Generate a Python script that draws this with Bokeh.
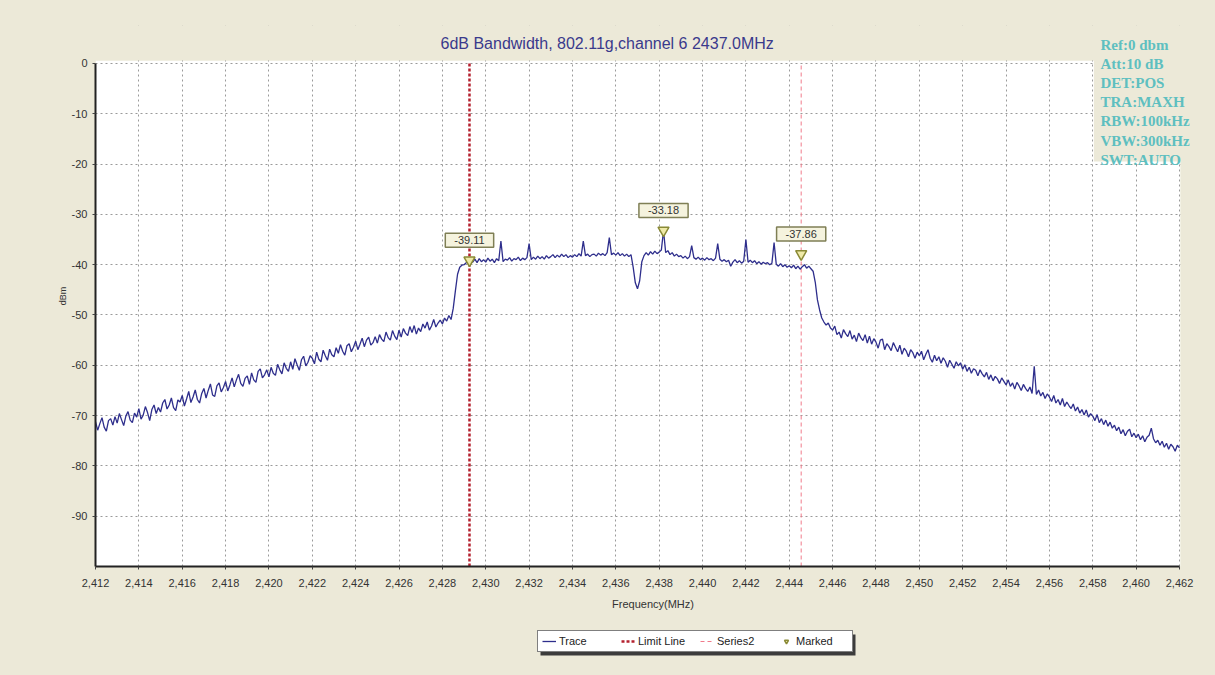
from bokeh.plotting import figure
from bokeh.layouts import column
from bokeh.models import (Range1d, FixedTicker, NumeralTickFormatter, Legend, LegendItem,
                          Label, BoxAnnotation)
from bokeh.embed import file_html
from bokeh.resources import INLINE

# ---------------- data ----------------
F_START = 2412.0
F_STEP = 0.1
TRACE_DBM = [
    -71.2, -72.9, -71.6, -70.4, -72.3, -73.1, -71.0, -70.6, -71.9, -70.2,
    -71.5, -69.6, -70.8, -72.0, -70.1, -69.2, -70.9, -71.4, -69.5, -70.3,
    -68.6, -70.7, -69.9, -68.2, -69.4, -71.0, -68.8, -67.9, -69.6, -68.4,
    -69.3, -67.5, -66.8, -68.7, -67.9, -66.5, -68.4, -69.0, -66.9, -67.3,
    -66.0, -68.1, -66.7, -65.2, -67.4, -66.3, -64.9, -66.8, -67.5, -65.6,
    -64.6, -66.5, -65.0, -63.7, -65.9, -66.2, -64.1, -63.5, -65.3, -64.4,
    -63.2, -65.1, -63.9, -62.5, -64.3, -62.9, -61.8, -63.6, -64.2, -62.6,
    -62.1, -63.8, -61.5, -62.9, -63.4, -61.2, -60.7, -62.5, -61.9, -60.9,
    -62.3, -60.4, -61.6, -62.0, -59.8, -60.9, -61.7, -59.5, -60.6, -61.2,
    -59.3, -60.8, -58.7, -59.9, -61.0, -58.9, -58.2, -60.1, -59.4, -58.1,
    -58.6, -59.7, -57.4, -58.8, -59.3, -57.0, -58.1, -59.0, -56.8, -57.9,
    -58.3, -56.5, -57.6, -55.9, -57.2, -58.0, -56.1, -55.7, -57.3, -56.4,
    -55.2, -56.9, -55.8, -54.6, -56.3, -55.0, -54.4, -56.0, -55.5, -54.3,
    -55.6, -53.9, -54.8, -55.3, -53.4, -54.5, -55.0, -53.1, -54.2, -54.9,
    -53.0, -54.4, -52.7, -53.6, -54.1, -52.3, -53.5, -52.1, -53.8, -52.6,
    -53.3, -51.8, -52.6, -51.4, -53.0, -52.2, -50.9, -52.4, -51.6, -51.0,
    -51.8, -50.6, -51.2, -50.1, -50.9, -48.7, -45.2, -41.9, -40.5, -40.1,
    -40.0, -39.6, -39.3, -39.1, -39.5, -38.9, -39.6, -38.8, -39.4, -39.0,
    -39.5, -38.7, -39.3, -38.9, -39.6, -38.8, -39.2, -35.3, -39.4, -38.9,
    -39.1, -38.6, -39.3, -38.8, -39.0, -38.5, -39.2, -38.7, -39.0, -38.6,
    -35.8, -39.0, -38.5, -38.9, -38.3, -38.8, -38.4, -38.9, -38.2, -38.7,
    -38.4, -38.0, -38.6, -38.1, -38.5, -37.9, -38.4, -38.0, -38.6, -38.2,
    -38.5, -38.0, -38.4, -37.8, -38.3, -35.3, -38.2, -37.9, -38.4, -38.0,
    -37.9, -38.3, -37.7, -38.1, -37.8, -38.2, -37.6, -34.6, -38.0, -37.7,
    -38.1, -37.6, -38.2, -37.8, -38.3, -37.9, -38.4, -38.0, -40.5, -43.6,
    -44.8, -43.2, -39.4, -38.2, -37.6, -38.1, -37.4, -37.9, -37.3, -37.8,
    -37.5, -37.1, -33.2, -37.6, -37.2, -38.0, -37.6, -38.3, -37.9, -38.4,
    -38.2, -38.7, -38.3, -38.8, -38.4, -36.2, -38.6, -38.9, -38.5, -39.0,
    -38.7, -39.1, -38.6, -39.0, -38.8, -39.2, -38.7, -35.8, -38.9, -39.3,
    -39.0, -39.4, -39.1, -40.3, -39.5, -39.0, -39.6, -39.2, -39.7, -39.3,
    -35.0, -39.5, -39.1, -39.6, -39.2, -39.8, -39.4, -39.9, -39.5, -39.8,
    -39.6, -40.0, -39.7, -35.6, -39.9, -40.3, -39.8, -40.4, -40.0, -40.5,
    -40.2, -40.6, -40.1, -40.8, -40.3, -40.9, -40.4, -40.0, -40.7, -40.3,
    -40.8, -41.3, -43.5, -47.0, -49.0, -50.6, -51.4, -52.0, -51.6, -52.6,
    -53.0, -52.2, -53.9, -53.4, -54.6, -52.9, -53.7, -54.3, -53.1, -54.8,
    -54.0, -55.3, -53.6, -54.5, -55.1, -53.9, -55.6, -54.2, -55.8, -54.7,
    -55.4, -56.6, -55.0, -54.8, -56.9, -55.7, -56.3, -57.1, -55.5, -56.4,
    -57.3, -56.0, -57.8, -56.6, -57.2, -58.3, -56.9, -57.5, -58.6, -57.4,
    -58.1, -57.2, -58.9, -57.8, -56.9, -58.6, -59.4, -58.0, -59.1, -58.3,
    -59.6, -58.5, -59.2, -60.4, -59.0, -59.8, -60.6, -59.3, -60.1, -59.5,
    -60.8, -59.9, -61.2, -60.4, -61.6, -60.7, -61.0, -62.1, -60.9, -61.7,
    -62.3, -61.4, -62.8, -61.9, -63.1, -62.2, -62.7, -63.6, -62.5, -63.2,
    -63.9, -62.9, -64.2, -63.5, -64.7, -63.4, -64.1, -65.0, -63.8, -64.6,
    -65.2, -64.3, -65.6, -60.2, -65.8, -64.9, -66.1, -65.4, -66.6, -65.7,
    -66.3, -67.2, -66.0, -67.5, -66.8, -67.9, -66.6, -68.2, -67.3, -68.0,
    -68.6, -67.7, -69.1, -68.3, -69.5, -68.8, -69.9, -68.9, -70.3, -69.6,
    -70.1, -71.0, -69.8, -71.4, -70.6, -71.8, -70.9, -72.1, -71.3, -72.5,
    -71.9, -73.0, -72.3, -73.6, -72.8, -74.0, -73.1, -72.7, -74.2, -73.5,
    -74.4, -73.7, -74.8, -74.0, -75.2, -74.3, -73.9, -72.5, -74.6, -75.4,
    -74.9, -75.9, -75.1, -76.3, -75.5, -76.7, -75.7, -76.2, -77.1, -75.9,
    -76.4,
]
FREQ_MHZ = [F_START + F_STEP * i for i in range(len(TRACE_DBM))]

LIMIT_LINE_MHZ = [2429.25]
SERIES2_MHZ = [2444.55]
MARKER_MHZ = [2429.25, 2438.2, 2444.55]
MARKER_DBM = [-39.11, -33.18, -37.86]

X_MIN, X_MAX = 2412, 2462
Y_MIN, Y_TOP = -100, 0
X_TICKS = list(range(2412, 2463, 2))
Y_TICKS = [0, -10, -20, -30, -40, -50, -60, -70, -80, -90]

TITLE = "6dB Bandwidth, 802.11g,channel 6  2437.0MHz"
INFO_LINES = ["Ref:0 dbm", "Att:10 dB", "DET:POS", "TRA:MAXH",
              "RBW:100kHz", "VBW:300kHz", "SWT:AUTO"]
LEGEND_LABELS = ["Trace", "Limit Line", "Series2", "Marked"]

# ---------------- styles ----------------
BEIGE = "#ECE9D8"
FONT = "Liberation Sans"
TRACE_STYLE = dict(line_color="#2E2E8C", line_width=1.3)
LIMIT_STYLE = dict(line_color="#B4202E", line_width=2.5, line_dash="3 2")
S2_STYLE = dict(line_color="#F07A8A", line_width=1, line_dash="4 3")
MARK_STYLE = dict(marker="inverted_triangle", size=11, fill_color="#EFEAA8",
                  line_color="#8A8A36", line_width=1.5)


def add_series(fig):
    """Draw all series on a figure; return renderers for the legend."""
    r_limit = fig.segment(x0=LIMIT_LINE_MHZ, x1=LIMIT_LINE_MHZ,
                          y0=[Y_MIN] * len(LIMIT_LINE_MHZ), y1=[Y_TOP] * len(LIMIT_LINE_MHZ),
                          **LIMIT_STYLE)
    r_s2 = fig.segment(x0=SERIES2_MHZ, x1=SERIES2_MHZ,
                       y0=[Y_MIN] * len(SERIES2_MHZ), y1=[Y_TOP] * len(SERIES2_MHZ),
                       **S2_STYLE)
    r_trace = fig.line(FREQ_MHZ, TRACE_DBM, **TRACE_STYLE)
    r_mark = fig.scatter(MARKER_MHZ, MARKER_DBM, **MARK_STYLE)
    return [r_trace, r_limit, r_s2, r_mark]


# ---------------- main chart ----------------
# frame: left 95, right 1210, top 25, bottom 566 (px); data area 2412..2462 x 0..-100
p = figure(width=1215, height=620, output_backend="svg", toolbar_location=None,
           x_range=Range1d(X_MIN, X_MAX + 1.43), y_range=Range1d(Y_MIN, Y_TOP + 7.55),
           min_border_left=95, min_border_right=5, min_border_top=25, min_border_bottom=54,
           background_fill_color=BEIGE, border_fill_color=BEIGE)
p.outline_line_color = None

for ax in (p.xaxis[0], p.yaxis[0]):
    ax.axis_line_width = 2
    ax.axis_line_color = "#222222"
    ax.major_tick_in = 0
    ax.major_tick_out = 3
    ax.major_tick_line_color = "#444444"
    ax.minor_tick_line_color = None
    ax.major_label_text_font = FONT
    ax.major_label_text_font_size = "11px"
    ax.major_label_text_color = "#333333"
    ax.axis_label_text_font = FONT
    ax.axis_label_text_font_style = "normal"
    ax.axis_label_text_color = "#333333"

p.xaxis.ticker = FixedTicker(ticks=X_TICKS)
p.xaxis.formatter = NumeralTickFormatter(format="0,0")
p.xaxis.bounds = (X_MIN, X_MAX)
p.xaxis.axis_label = "Frequency(MHz)"
p.xaxis.axis_label_text_font_size = "11px"
p.xaxis.major_label_standoff = 9
p.xaxis.axis_label_standoff = 8
p.yaxis.ticker = FixedTicker(ticks=Y_TICKS)
p.yaxis.formatter = NumeralTickFormatter(format="0")
p.yaxis.bounds = (Y_MIN, Y_TOP)
p.yaxis.axis_label = "dBm"
p.yaxis.axis_label_text_font_size = "9px"
p.yaxis.axis_label_standoff = 1

p.xgrid.ticker = FixedTicker(ticks=X_TICKS)
p.ygrid.ticker = FixedTicker(ticks=Y_TICKS)
for g in (p.xgrid[0], p.ygrid[0]):
    g.grid_line_color = "#9A9A9A"
    g.grid_line_dash = "2 3"
    g.grid_line_width = 1

# white data area (drawn beneath the grid)
p.add_layout(BoxAnnotation(left=X_MIN, right=X_MAX + 0.05, bottom=Y_MIN, top=Y_TOP + 0.6,
                           fill_color="white", fill_alpha=1, line_color=None, level="image"))
# beige surround over the grid: above 0 dB, right of 2462, and behind the settings text
for kw in (dict(bottom=Y_TOP + 0.6), dict(left=X_MAX + 0.05), dict(left=2458.05, bottom=-19.5)):
    p.add_layout(BoxAnnotation(fill_color=BEIGE, fill_alpha=1, line_color=None,
                               level="underlay", **kw))

add_series(p)

for f, v in zip(MARKER_MHZ, MARKER_DBM):
    p.add_layout(Label(x=f, y=v, text=f"{v:.2f}", y_offset=20,
                       text_align="center", text_baseline="middle",
                       text_font=FONT, text_font_size="11px", text_color="#333333",
                       background_fill_color="#F5F3DE", border_line_color="#7F7F55",
                       border_line_width=1.5,
                       padding=dict(left=9, right=9, top=3, bottom=3)))

# title (inside the frame's beige top strip)
p.add_layout(Label(x=345, y=523, x_units="screen", y_units="screen", text=TITLE,
                   text_baseline="middle", text_align="left", text_font=FONT,
                   text_font_size="16px", text_color="#3A3A8C"))

# instrument settings text (top right)
for i, t in enumerate(INFO_LINES):
    p.add_layout(Label(x=1005, y=530 - i * 19.2, x_units="screen", y_units="screen",
                       text=t, text_baseline="top", text_align="left",
                       text_font="Liberation Serif", text_font_style="bold",
                       text_font_size="15px", text_color="#5EBFC0"))

# ---------------- legend strip ----------------
lg = figure(width=1215, height=55, output_backend="svg", toolbar_location=None,
            x_range=Range1d(0, 1), y_range=Range1d(0, 1),
            x_axis_type=None, y_axis_type=None,
            min_border=0, min_border_left=0, min_border_right=0,
            min_border_top=0, min_border_bottom=0,
            background_fill_color=BEIGE, border_fill_color=BEIGE)
lg.outline_line_color = None
lg.grid.visible = False
# series lie outside this strip's ranges, so only their legend glyphs show
legend_renderers = add_series(lg)

LEG_X, LEG_Y, LEG_W, LEG_H = 442, 23, 315, 21
# drop shadow behind the legend box
lg.add_layout(BoxAnnotation(left=LEG_X + 3, right=LEG_X + LEG_W + 3,
                            bottom=LEG_Y - 3, top=LEG_Y + LEG_H - 3,
                            left_units="screen", right_units="screen",
                            bottom_units="screen", top_units="screen",
                            fill_color="#3C3C3C", fill_alpha=1, line_color=None))

legend = Legend(items=[LegendItem(label=lab, renderers=[r])
                       for lab, r in zip(LEGEND_LABELS, legend_renderers)],
                orientation="horizontal", location=(LEG_X, LEG_Y))
legend.border_line_color = "black"
legend.border_line_width = 1
legend.background_fill_color = "white"
legend.background_fill_alpha = 1
legend.label_text_font = FONT
legend.label_text_font_size = "11px"
legend.label_text_color = "#222222"
legend.glyph_width = 14
legend.glyph_height = 10
legend.label_standoff = 3
legend.label_width = 52
legend.label_height = 12
legend.spacing = 10
legend.padding = 4
legend.margin = 0
lg.add_layout(legend)

layout = column(p, lg, spacing=0)
html = file_html(layout, INLINE)
html = html.replace("</head>", "<style>html, body { background-color: %s; }</style></head>" % BEIGE, 1)
open("out.html", "w").write(html)
